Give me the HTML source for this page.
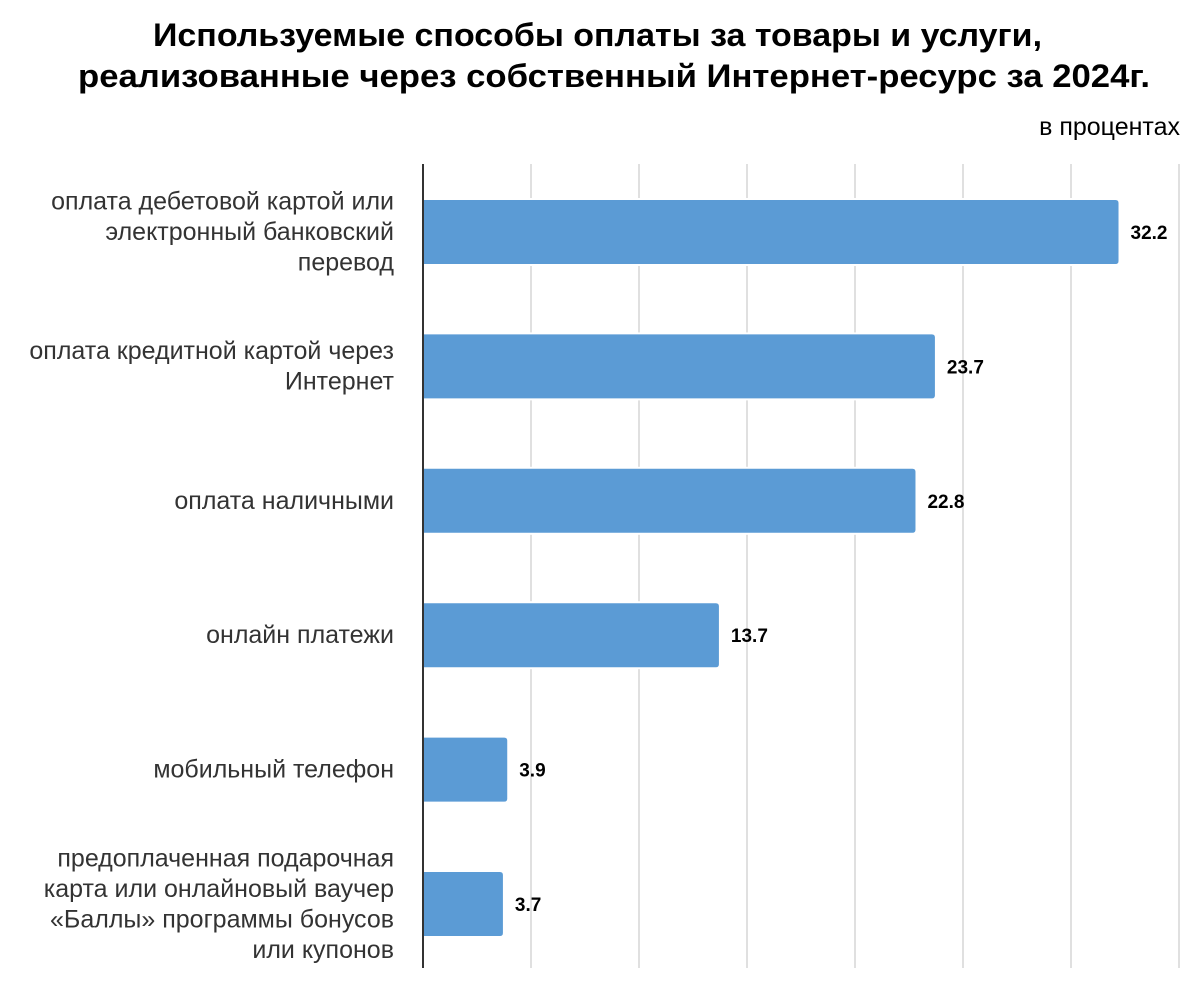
<!DOCTYPE html>
<html><head><meta charset="utf-8"><style>
body{margin:0;background:#fff;font-family:"Liberation Sans","DejaVu Sans",sans-serif;}
</style></head><body>
<svg width="1200" height="1000" xmlns="http://www.w3.org/2000/svg">
<text x="153" y="46" textLength="889" lengthAdjust="spacingAndGlyphs" font-size="32" font-weight="bold" fill="#000">Используемые способы оплаты за товары и услуги,</text>
<text x="78" y="87" textLength="1072" lengthAdjust="spacingAndGlyphs" font-size="32" font-weight="bold" fill="#000">реализованные через собственный Интернет-ресурс за 2024г.</text>
<text x="1180" y="135" text-anchor="end" font-size="25" fill="#000">в процентах</text>
<g id="grid"></g><g id="bars"></g><g id="labels"></g>
<line x1="423" y1="164" x2="423" y2="968" stroke="#333" stroke-width="2"/>
</svg>
<script>
const categories=[["оплата дебетовой картой или","электронный банковский","перевод"],["оплата кредитной картой через","Интернет"],["оплата наличными"],["онлайн платежи"],["мобильный телефон"],["предоплаченная подарочная","карта или онлайновый ваучер","«Баллы» программы бонусов","или купонов"]];
const values=[32.2,23.7,22.8,13.7,3.9,3.7];
const gridTicks=[5,10,15,20,25,30,35];
const NS="http://www.w3.org/2000/svg";
const x=v=>423+v*21.6;
const yc=i=>232+i*134.4;
const g=document.getElementById('grid'),b=document.getElementById('bars'),l=document.getElementById('labels');
gridTicks.forEach(t=>{const e=document.createElementNS(NS,'line');


e.setAttribute('x1',x(t));e.setAttribute('x2',x(t));e.setAttribute('y1',164);e.setAttribute('y2',968);e.setAttribute('stroke','#e0e0e0');e.setAttribute('stroke-width','2');g.appendChild(e);});
values.forEach((v,i)=>{
const c=yc(i);
const bg=document.createElementNS(NS,'rect');


bg.setAttribute('x',424);bg.setAttribute('y',c-34);bg.setAttribute('width',x(v)-424+2);bg.setAttribute('height',68);bg.setAttribute('fill','#fff');b.appendChild(bg);
const r=document.createElementNS(NS,'path');


const x0=424,x1=x(v),t=c-32,bt=c+32,rr=3;
r.setAttribute('d',`M${x0},${t}H${x1-rr}Q${x1},${t} ${x1},${t+rr}V${bt-rr}Q${x1},${bt} ${x1-rr},${bt}H${x0}Z`);
r.setAttribute('fill','#5b9bd5');b.appendChild(r);
const vt=document.createElementNS(NS,'text');


vt.setAttribute('x',x(v)+12);vt.setAttribute('y',c+7);vt.setAttribute('font-size','19');vt.setAttribute('font-weight','bold');vt.textContent=v.toFixed(1);l.appendChild(vt);
const lines=categories[i];const lh=30.5;const start=c-(lines.length-1)*lh/2;
lines.forEach((s,k)=>{const ct=document.createElementNS(NS,'text');


ct.setAttribute('x',394);ct.setAttribute('y',start+k*lh+8);ct.setAttribute('text-anchor','end');ct.setAttribute('font-size','25');ct.setAttribute('fill','#333');ct.textContent=s;l.appendChild(ct);});
});
</script>
</body></html>
